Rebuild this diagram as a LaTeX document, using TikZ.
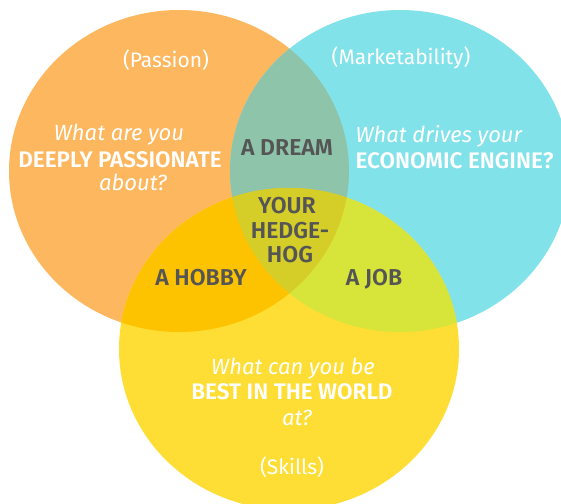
\documentclass[tikz,border=0pt]{standalone}
\usepackage{fontspec}
\setmainfont{Fira Sans}[BoldFont={Fira Sans SemiBold}]
\usetikzlibrary{positioning}
\definecolor{passion}{HTML}{FDB75E}
\definecolor{market}{HTML}{82E2EA}
\definecolor{skills}{HTML}{FEDE34}
\definecolor{dream}{HTML}{8EC4AA}
\definecolor{hobby}{HTML}{FEC300}
\definecolor{job}{HTML}{D7E43A}
\definecolor{hedgehog}{HTML}{D5CD28}
\definecolor{darktext}{HTML}{555555}
\begin{document}
\begin{tikzpicture}[x=1pt,y=-1pt,
    ask/.style={text=white, anchor=base, font=\fontsize{22}{24}\selectfont\itshape},
    big/.style={text=white, anchor=base, font=\fontsize{22.5}{24}\selectfont\bfseries},
    tag/.style={text=white, anchor=base, font=\fontsize{21}{24}\selectfont},
    overlap/.style={text=darktext, anchor=base, font=\fontsize{23}{24}\selectfont\bfseries}]
    \useasboundingbox (0,0) rectangle (561,503);
    % the three circles
    \fill[passion] (179,171) ellipse [x radius=170pt, y radius=161pt];
    \fill[market] (400,171) ellipse [x radius=170pt, y radius=161pt];
    \fill[skills] (289,349) ellipse [x radius=170pt, y radius=161pt];
    % overlaps
    \begin{scope}
        \clip (179,171) ellipse [x radius=170pt, y radius=161pt];
        \fill[dream] (400,171) ellipse [x radius=170pt, y radius=161pt];
        \fill[hobby] (289,349) ellipse [x radius=170pt, y radius=161pt];
        \clip (400,171) ellipse [x radius=170pt, y radius=161pt];
        \fill[hedgehog] (289,349) ellipse [x radius=170pt, y radius=161pt];
    \end{scope}
    \begin{scope}[even odd rule]
        \clip (400,171) ellipse [x radius=170pt, y radius=161pt];
        \clip (0,0) rectangle (561,503) (179,171) ellipse [x radius=170pt, y radius=161pt];
        \fill[job] (289,349) ellipse [x radius=170pt, y radius=161pt];
    \end{scope}

    % passion
    \node[tag] (passion) at (166,67) {(Passion)};
    \node[ask] (passq1) at (119,140) {What are you};
    \node[big] (passq2) at (120,167) {DEEPLY PASSIONATE};
    \node[ask] (passq3) at (133,190) {about?};
    % marketability
    \node[tag] (market) at (401,64) {(Marketability)};
    \node[ask, anchor=base west] (markq1) at (352,142) {What drives your};
    \node[big, anchor=base west] (markq2) at (352,168) {ECONOMIC ENGINE?};
    % skills
    \node[ask] (skillq1) at (293,374) {What can you be};
    \node[big] (skillq2) at (292,399) {BEST IN THE WORLD};
    \node[ask] (skillq3) at (297,425) {at?};
    \node[tag] (skills) at (292,474) {(Skills)};
    % overlaps
    \node[overlap] (dream) at (287,155) {A DREAM};
    \node[overlap] (your) at (287,213) {YOUR};
    \node[overlap] (hedge) at (290,238) {HEDGE-};
    \node[overlap] (hog) at (290,262) {HOG};
    \node[overlap] (hobby) at (201,285) {A HOBBY};
    \node[overlap] (job) at (374,285) {A JOB};
\end{tikzpicture}
\end{document}
